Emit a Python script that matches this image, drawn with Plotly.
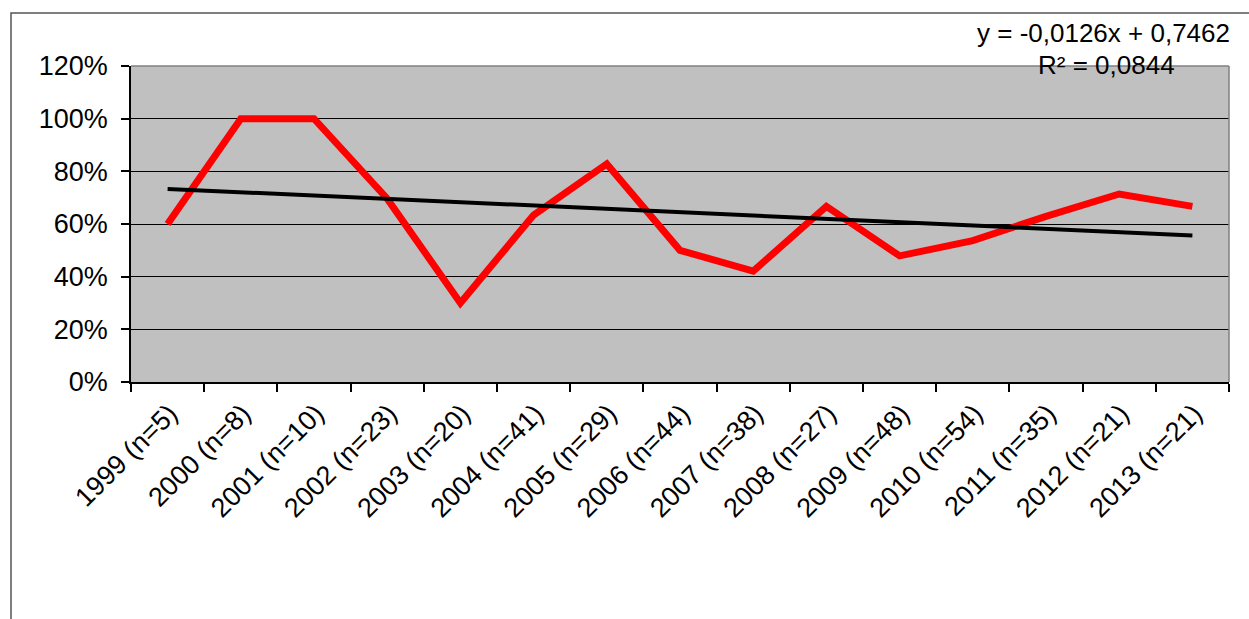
import numpy as np
import plotly.graph_objects as go

categories = ["1999 (n=5)", "2000 (n=8)", "2001 (n=10)", "2002 (n=23)", "2003 (n=20)",
              "2004 (n=41)", "2005 (n=29)", "2006 (n=44)", "2007 (n=38)", "2008 (n=27)",
              "2009 (n=48)", "2010 (n=54)", "2011 (n=35)", "2012 (n=21)", "2013 (n=21)"]
share = [0.600, 1.000, 1.000, 0.696, 0.300, 0.634, 0.828, 0.500, 0.421, 0.667,
         0.479, 0.537, 0.629, 0.714, 0.667]
y_ticks = [0, 0.2, 0.4, 0.6, 0.8, 1.0, 1.2]
eq_text = "y = -0,0126x + 0,7462"
r2_text = "R² = 0,0844"

# linear trend (Excel-style, x = 1..n)
xi = np.arange(1, len(share) + 1)
slope, intercept = np.polyfit(xi, share, 1)
trend = slope * xi + intercept

FONT = "Liberation Sans, Arial, sans-serif"
W, H = 1249, 619
L, R, T, B = 131, 20, 66, 237
pw, ph = W - L - R, H - T - B

def px(x):
    return (x - L) / pw

def py(y):
    return 1 - (y - T) / ph

fig = go.Figure()
fig.add_trace(go.Scatter(x=categories, y=share, mode="lines",
                         line=dict(color="#ff0000", width=7), showlegend=False))
fig.add_trace(go.Scatter(x=categories, y=trend, mode="lines",
                         line=dict(color="#000000", width=4), showlegend=False))

fig.update_layout(
    width=W, height=H,
    margin=dict(l=L, r=R, t=T, b=B),
    paper_bgcolor="white",
    plot_bgcolor="#c0c0c0",
    font=dict(family=FONT, size=26, color="black"),
    showlegend=False,
    xaxis=dict(type="category", range=[-0.5, len(categories) - 0.5],
               tickangle=-45, tickson="boundaries",
               ticks="outside", ticklen=8, tickwidth=1.5, tickcolor="black",
               showline=True, linecolor="black", linewidth=2,
               showgrid=False, zeroline=False,
               ticklabelstandoff=3, ticklabelshift=2,
               tickfont=dict(family=FONT, size=27)),
    yaxis=dict(range=[0, 1.2], tickvals=y_ticks, tickformat=".0%",
               ticks="outside", ticklen=8, tickwidth=1.5, tickcolor="black",
               showline=True, linecolor="black", linewidth=1.5,
               showgrid=True, gridcolor="black", gridwidth=1.3,
               zeroline=False, ticklabelstandoff=8,
               tickfont=dict(family=FONT, size=27)),
    shapes=[
        dict(type="line", xref="paper", yref="paper", x0=0, x1=1, y0=1, y1=1,
             line=dict(color="#808080", width=1.5)),
        dict(type="line", xref="paper", yref="paper", x0=1, x1=1, y0=0, y1=1,
             line=dict(color="#808080", width=1.5)),
        dict(type="rect", xref="paper", yref="paper", x0=px(11), x1=px(1262),
             y0=py(13), y1=py(640), line=dict(color="#555555", width=1.5),
             layer="below"),
    ],
    annotations=[
        dict(text=eq_text, xref="paper", yref="paper", x=px(1103), y=py(33),
             xanchor="center", yanchor="middle", showarrow=False,
             font=dict(family=FONT, size=26, color="black")),
        dict(text=r2_text, xref="paper", yref="paper", x=px(1106), y=py(65),
             xanchor="center", yanchor="middle", showarrow=False,
             font=dict(family=FONT, size=26, color="black")),
    ],
)

fig.write_html("out.html")
